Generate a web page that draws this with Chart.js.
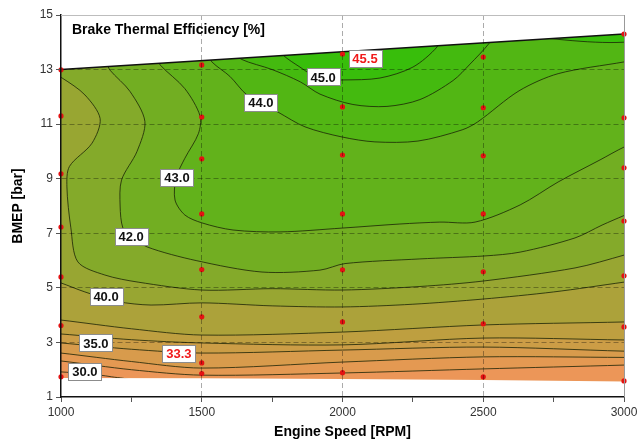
<!DOCTYPE html>
<html>
<head>
<meta charset="utf-8">
<script src="https://cdn.jsdelivr.net/npm/chart.js@4.4.1/dist/chart.umd.min.js"></script>
<style>
  html, body { margin: 0; padding: 0; background: #fff; }
  #wrap { width: 641px; height: 441px; }
</style>
</head>
<body>
<div id="wrap"><canvas id="chart-canvas" width="641" height="441"></canvas></div>
<script>
const canvas = document.getElementById("chart-canvas");
Chart.defaults.font.family = "'Liberation Sans', Arial, sans-serif";
Chart.defaults.color = "#333";

const chartTitle = "Brake Thermal Efficiency [%]";
const xTitle = "Engine Speed [RPM]";
const yTitle = "BMEP [bar]";

// contour levels (%) and the fill colour of the area above each one
const levels = [30, 32, 34, 35, 36, 38, 40, 41, 42, 43, 44, 44.5, 45];
const baseColor = "rgb(240,146,92)";
const levelColors = [
  "rgb(236,150,88)", "rgb(228,153,82)", "rgb(216,155,76)", "rgb(204,157,70)",
  "rgb(190,159,64)", "rgb(172,162,58)", "rgb(152,166,50)", "rgb(132,170,42)",
  "rgb(114,174,34)", "rgb(98,178,27)", "rgb(82,182,20)", "rgb(68,186,15)",
  "rgb(56,190,11)",
];

// contour lines, [rpm, bmep]; first/last points sit just outside the map
const c30 = [[960, 1.95], [1000, 1.92], [1085, 1.86], [1180, 1.74], [1260, 1.55], [1320, 0.6], [3060, 0.6]];
const c32 = [[960, 2.34], [1000, 2.32], [1250, 2.0], [1500, 1.8], [2000, 1.88], [2500, 2.03], [3000, 2.17], [3060, 2.2]];
const c34 = [[960, 2.63], [1000, 2.61], [1250, 2.3], [1500, 2.06], [2000, 2.28], [2500, 2.47], [3000, 2.45], [3060, 2.45]];
const c35 = [[960, 3.0], [1000, 2.98], [1250, 2.75], [1500, 2.61], [2000, 2.72], [2500, 2.83], [3000, 2.68], [3060, 2.68]];
const c36 = [[960, 3.33], [1000, 3.31], [1250, 3.1], [1500, 2.98], [2000, 2.91], [2500, 3.16], [3000, 3.09], [3060, 3.09]];
const c38 = [[960, 3.85], [1000, 3.82], [1250, 3.5], [1500, 3.27], [2000, 3.38], [2500, 3.64], [3000, 3.75], [3060, 3.78]];
const c40 = [[960, 5.3], [1000, 5.18], [1085, 4.85], [1200, 4.5], [1320, 4.37], [1500, 4.45], [1750, 4.34],
  [2000, 4.3], [2250, 4.4], [2500, 4.59], [2750, 4.85], [3000, 5.21], [3060, 5.3]];
const c41 = [[960, 12.9], [1004, 12.69], [1085, 12.07], [1139, 11.2], [1110, 10.3], [1030, 9.45], [1021, 8.7],
  [1035, 7.2], [1060, 5.95], [1156, 5.47], [1274, 5.21], [1500, 4.92], [1750, 4.97], [2000, 4.92],
  [2275, 5.05], [2500, 5.25], [2826, 5.73], [3000, 6.2], [3060, 6.4]];
const c42 = [[1160, 13.3], [1174, 12.98], [1245, 12.2], [1298, 11.1], [1270, 10.0], [1215, 8.95], [1210, 8.0],
  [1220, 7.19], [1249, 6.9], [1306, 6.5], [1480, 6.0], [1714, 5.58], [1920, 5.65], [2009, 5.89],
  [2275, 6.06], [2506, 6.17], [2631, 6.31], [2826, 6.83], [2922, 7.3], [3000, 7.65], [3060, 7.9]];
const c43 = [[1345, 13.4], [1352, 13.17], [1440, 12.3], [1494, 11.3], [1488, 10.65], [1440, 9.75], [1409, 9.03],
  [1405, 8.22], [1440, 7.67], [1501, 7.38], [1611, 7.12], [1778, 7.05], [1998, 7.19], [2204, 7.34],
  [2346, 7.41], [2471, 7.41], [2631, 8.04], [2766, 8.88], [2915, 9.69], [3000, 10.16], [3060, 10.4]];
const c44 = [[1520, 13.6], [1536, 13.28], [1600, 12.75], [1661, 12.07], [1771, 11.44], [1867, 10.9],
  [1998, 10.53], [2115, 10.35], [2268, 10.38], [2425, 10.79], [2480, 11.08], [2627, 12.22],
  [2766, 12.85], [3000, 13.28], [3060, 13.4]];
const c44h = [[1610, 13.7], [1640, 13.38], [1750, 13.0], [1850, 12.55], [1920, 12.1], [2037, 11.72],
  [2158, 11.65], [2275, 11.9], [2393, 12.6], [2453, 13.2], [2520, 13.95], [2560, 14.6]];
const c45 = [[1775, 13.8], [1789, 13.53], [1849, 13.09], [1920, 12.65], [2002, 12.62], [2133, 12.69],
  [2250, 13.09], [2336, 13.83], [2360, 14.4]];
const contours = [c30, c32, c34, c35, c36, c38, c40, c41, c42, c43, c44, c44h, c45];

// edges of the measured area
const topEdge = [[1000, 13.0], [3000, 14.3]];
const bottomEdge = [[1000, 1.70], [1500, 1.69], [2000, 1.66], [2500, 1.62], [3000, 1.57]];

// measured points (red dots)
const dotRpm = [1000, 1500, 2000, 2500, 3000];
const dotBmep = [
  [12.99, 11.3, 9.18, 7.23, 5.4, 3.62, 1.74],
  [13.17, 11.26, 9.73, 7.71, 5.67, 3.94, 2.25, 1.86],
  [13.57, 11.63, 9.87, 7.71, 5.66, 3.75, 1.89],
  [13.46, 11.6, 9.84, 7.71, 5.59, 3.68, 1.74],
  [14.3, 11.23, 9.4, 7.45, 5.44, 3.57, 1.59],
];

// contour value labels
const labelText = ["30.0", "33.3", "35.0", "40.0", "42.0", "43.0", "44.0", "45.0", "45.5"];
const labelRpm = [1085, 1419, 1124, 1160, 1249, 1412, 1710, 1931, 2080];
const labelBmep = [1.92, 2.58, 2.98, 4.67, 6.9, 9.03, 11.78, 12.73, 13.42];
const redLabels = ["33.3", "45.5"];

const OUT_LEFT = 900, OUT_RIGHT = 3150, OUT_TOP = 20, OUT_BOTTOM = -2;
const pts = (arr) => arr.map(([x, y]) => ({ x, y }));

// closed shape: the contour plus a detour round the top, outside the plot
function regionAbove(line) {
  const first = line[0];
  const last = line[line.length - 1];
  return pts([...line, [OUT_RIGHT, last[1]], [OUT_RIGHT, OUT_TOP], [first[0], OUT_TOP]]);
}

const shape = (data, color, extra) => Object.assign({
  data, showLine: true, fill: "shape", backgroundColor: color,
  borderWidth: 0, pointRadius: 0, tension: 0,
}, extra);

const layers = [];
layers.push(shape(pts([[OUT_LEFT, OUT_BOTTOM], [OUT_RIGHT, OUT_BOTTOM], [OUT_RIGHT, OUT_TOP], [OUT_LEFT, OUT_TOP]]), baseColor));
contours.forEach((line, i) => {
  layers.push(shape(regionAbove(line), levelColors[i], {
    borderColor: "rgba(28,36,6,0.8)", borderWidth: 1, tension: 0.3,
  }));
});
// white outside the measured area
layers.push(shape(pts([[OUT_LEFT, topEdge[0][1]], ...topEdge, [OUT_RIGHT, topEdge[1][1]],
  [OUT_RIGHT, OUT_TOP], [OUT_LEFT, OUT_TOP]]), "#fff"));
layers.push(shape(pts([[OUT_LEFT, bottomEdge[0][1]], ...bottomEdge, [OUT_RIGHT, bottomEdge[4][1]],
  [OUT_RIGHT, OUT_BOTTOM], [OUT_LEFT, OUT_BOTTOM]]), "#fff"));
layers.push({
  data: pts(topEdge), showLine: true, fill: false, borderColor: "#111",
  borderWidth: 1.5, pointRadius: 0, tension: 0,
});
layers.push({
  data: dotRpm.flatMap((r, i) => dotBmep[i].map((b) => ({ x: r, y: b }))),
  showLine: false, pointRadius: 2.6, pointBackgroundColor: "#e41212",
  pointBorderWidth: 0, clip: false,
});
// first dataset is drawn at the bottom
layers.forEach((d, i) => { d.order = layers.length - i; });

const overlay = {
  id: "overlay",
  afterDraw(chart) {
    const { ctx, chartArea: a, scales: { x, y } } = chart;
    ctx.save();
    ctx.lineWidth = 1;
    ctx.strokeStyle = "#bdbdbd";
    ctx.beginPath();
    ctx.moveTo(a.left, a.top + 0.5);
    ctx.lineTo(a.right, a.top + 0.5);
    ctx.stroke();
    ctx.strokeStyle = "#999";
    ctx.beginPath();
    ctx.moveTo(a.right + 0.5, a.top);
    ctx.lineTo(a.right + 0.5, a.bottom);
    ctx.stroke();

    ctx.font = "bold 13px 'Liberation Sans', Arial, sans-serif";
    ctx.textAlign = "center";
    ctx.textBaseline = "middle";
    labelText.forEach((t, i) => {
      const px = x.getPixelForValue(labelRpm[i]);
      const py = y.getPixelForValue(labelBmep[i]);
      const w = Math.round(ctx.measureText(t).width + 8);
      const h = 17;
      const bx = Math.round(px - w / 2) + 0.5;
      const by = Math.round(py - h / 2) + 0.5;
      ctx.fillStyle = "#fff";
      ctx.fillRect(bx, by, w, h);
      ctx.strokeStyle = "#8c8c8c";
      ctx.strokeRect(bx, by, w, h);
      ctx.fillStyle = redLabels.includes(t) ? "#f01a1a" : "#111";
      ctx.fillText(t, px, py + 1);
    });

    ctx.fillStyle = "#000";
    ctx.font = "bold 14px 'Liberation Sans', Arial, sans-serif";
    ctx.textAlign = "left";
    ctx.fillText(chartTitle, a.left + 11, a.top + 15);
    ctx.textAlign = "center";
    ctx.fillText(xTitle, (a.left + a.right) / 2, a.bottom + 35);
    ctx.translate(a.left - 43, (a.top + a.bottom) / 2);
    ctx.rotate(-Math.PI / 2);
    ctx.fillText(yTitle, 0, 0);
    ctx.restore();
  },
};

const gridColor = "rgba(0,0,0,0.33)";

new Chart(canvas, {
  type: "scatter",
  data: { datasets: layers },
  plugins: [overlay],
  options: {
    responsive: false,
    animation: false,
    events: [],
    layout: { padding: { top: 15, right: 17, left: 0, bottom: 0 } },
    plugins: { legend: { display: false }, tooltip: { enabled: false } },
    scales: {
      x: {
        type: "linear",
        min: 1000,
        max: 3000,
        afterFit: (scale) => { scale.height = 44; },
        ticks: {
          stepSize: 250,
          autoSkip: false,
          maxRotation: 0,
          padding: 3,
          font: { size: 12 },
          color: "#333",
          callback: (value) => (value % 500 === 0 ? String(value) : ""),
        },
        grid: {
          z: 1,
          color: (context) => {
            const v = context.tick ? context.tick.value : 0;
            return v % 500 === 0 && v > 1000 && v < 3000 ? gridColor : "transparent";
          },
          tickColor: "#555",
          tickLength: 5,
        },
        border: { z: 2, color: "#111", width: 1.5, dash: [5, 3] },
      },
      y: {
        type: "linear",
        min: 1,
        max: 15,
        afterFit: (scale) => { scale.width = 61; },
        ticks: { stepSize: 2, padding: 3, font: { size: 12 }, color: "#333" },
        grid: {
          z: 1,
          color: (context) => {
            const v = context.tick ? context.tick.value : 0;
            return v > 1 && v < 15 ? gridColor : "transparent";
          },
          tickColor: "#555",
          tickLength: 5,
        },
        border: { z: 2, color: "#111", width: 1.5, dash: [5, 3] },
      },
    },
  },
});
</script>
</body>
</html>
